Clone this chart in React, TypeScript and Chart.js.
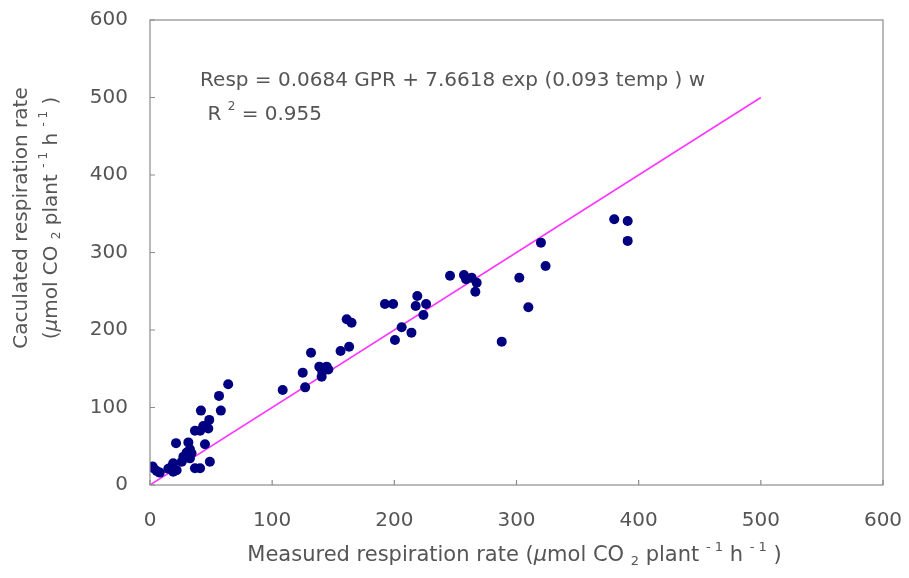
import React, { useEffect, useRef } from "react";
import { Chart, registerables } from "chart.js";

Chart.register(...registerables);

const measured = [
  2, 2.7, 5.5, 8, 15, 17.7, 19, 21.8, 19, 26, 27.3, 32.7, 30, 34, 32.7, 21.3, 31.4, 45, 36.8, 41, 49,
  36.8, 41, 43.6, 47.7, 48.5, 41.7, 58, 56.5, 64,
  108.6, 127, 125, 131.8, 138.6, 144.6, 141, 140.5, 146, 156, 163, 161, 165,
  192.3, 199, 218.8, 217.5, 226, 223.8, 206, 200.5, 214, 245.6, 257, 258.7, 263.3, 267.4, 266.3,
  287.9, 302.3, 309.7, 320, 323.8, 380, 391, 391,
];
const calculated = [
  24, 22, 18, 16, 21, 23.6, 28, 19, 17, 30, 36.5, 34.4, 42, 41, 46, 54, 55, 52.5, 21.5, 21.5, 30,
  70, 70, 76, 73, 84, 96, 96, 115, 130,
  122.6, 126, 145, 170.7, 152.7, 152.7, 146, 139.7, 149, 173, 178.5, 213.8, 209.4,
  233.5, 233.5, 243.9, 231, 233.5, 219.4, 203.5, 187, 196.6, 270, 271, 265.4, 267.5, 261, 249.4,
  185, 267.5, 229.3, 312.7, 282.6, 342.8, 340.6, 315,
];
const lineX = [0, 500];
const lineY = [0, 500];
const axisMin = 0;
const axisMax = 600;
const axisStep = 100;

const equationText = "Resp = 0.0684 GPR + 7.6618 exp (0.093 temp ) w";
const r2Text = [{ t: "R " }, { t: "2", s: "sup" }, { t: " = 0.955" }];
const xTitle = [
  { t: "Measured respiration rate (" },
  { t: "μ", it: true },
  { t: "mol CO " },
  { t: "2", s: "sub" },
  { t: " plant " },
  { t: "- 1", s: "sup" },
  { t: " h " },
  { t: "- 1", s: "sup" },
  { t: " )" },
];
const yTitle1 = [{ t: "Caculated respiration rate" }];
const yTitle2 = [
  { t: "(" },
  { t: "μ", it: true },
  { t: "mol CO " },
  { t: "2", s: "sub" },
  { t: " plant " },
  { t: "- 1", s: "sup" },
  { t: " h " },
  { t: "- 1", s: "sup" },
  { t: " )" },
];

const FONT = "'DejaVu Sans', sans-serif";
const TEXT = "#555555";

type Seg = { t: string; s?: string; it?: boolean };

function segFont(seg: Seg, size: number) {
  const sz = seg.s ? Math.round(size * 0.62) : size;
  return `${seg.it ? "italic " : ""}${sz}px ${FONT}`;
}
function richWidth(ctx: CanvasRenderingContext2D, segs: Seg[], size: number) {
  let w = 0;
  for (const sg of segs) {
    ctx.font = segFont(sg, size);
    w += ctx.measureText(sg.t).width;
  }
  return w;
}
function drawRich(ctx: CanvasRenderingContext2D, segs: Seg[], x: number, y: number, size: number, align: "left" | "center") {
  let cx = align === "center" ? x - richWidth(ctx, segs, size) / 2 : x;
  ctx.textAlign = "left";
  ctx.textBaseline = "middle";
  for (const sg of segs) {
    ctx.font = segFont(sg, size);
    let dy = 0;
    if (sg.s === "sup") dy = -size * 0.4;
    if (sg.s === "sub") dy = size * 0.25;
    ctx.fillText(sg.t, cx, y + dy);
    cx += ctx.measureText(sg.t).width;
  }
}

const decorPlugin = {
  id: "decor",
  afterDraw(chart: any) {
    const ctx = chart.ctx as CanvasRenderingContext2D;
    const { left, right, top, bottom } = chart.chartArea;
    const xs = chart.scales.x;
    const ys = chart.scales.y;
    ctx.save();
    ctx.strokeStyle = "#8c8c8c";
    ctx.lineWidth = 1.2;
    ctx.strokeRect(left, top, right - left, bottom - top);
    ctx.beginPath();
    for (let v = axisMin; v <= axisMax; v += axisStep) {
      const py = ys.getPixelForValue(v);
      ctx.moveTo(left, py);
      ctx.lineTo(left + 5, py);
      const px = xs.getPixelForValue(v);
      ctx.moveTo(px, bottom);
      ctx.lineTo(px, bottom - 5);
    }
    ctx.stroke();

    ctx.fillStyle = TEXT;
    drawRich(ctx, [{ t: equationText }], xs.getPixelForValue(41), ys.getPixelForValue(522), 20, "left");
    drawRich(ctx, r2Text, xs.getPixelForValue(47), ys.getPixelForValue(478), 20, "left");

    drawRich(ctx, xTitle, (left + right) / 2 - 2, 556, 21, "center");

    const cy = 218;
    ctx.save();
    ctx.translate(22, cy);
    ctx.rotate(-Math.PI / 2);
    drawRich(ctx, yTitle1, 0, 0, 20, "center");
    ctx.restore();
    ctx.save();
    ctx.translate(52, cy);
    ctx.rotate(-Math.PI / 2);
    drawRich(ctx, yTitle2, 0, 0, 20, "center");
    ctx.restore();
    ctx.restore();
  },
};

export default function App() {
  const ref = useRef<HTMLCanvasElement | null>(null);
  useEffect(() => {
    if (!ref.current) return;
    const points = measured.map((m, i) => ({ x: m, y: calculated[i] }));
    const line = lineX.map((v, i) => ({ x: v, y: lineY[i] }));
    const tickFont = { family: FONT, size: 20 };
    const chart = new Chart(ref.current, {
      type: "scatter",
      data: {
        datasets: [
          {
            type: "line",
            data: line,
            borderColor: "#ff33ff",
            borderWidth: 1.5,
            pointRadius: 0,
            fill: false,
            order: 2,
          } as any,
          {
            data: points,
            backgroundColor: "#000080",
            borderColor: "#000080",
            pointRadius: 5,
            pointBorderWidth: 0,
            order: 1,
          },
        ],
      },
      options: {
        animation: false,
        responsive: false,
        layout: { padding: { left: 0, top: 20, right: 26, bottom: 0 } },
        plugins: { legend: { display: false }, tooltip: { enabled: false } },
        scales: {
          x: {
            type: "linear",
            min: axisMin,
            max: axisMax,
            ticks: { stepSize: axisStep, color: TEXT, font: tickFont, padding: 24 },
            grid: { display: false, drawTicks: false },
            border: { display: false },
            afterFit: (s: any) => {
              s.height = 93;
              s.paddingLeft = 0;
              s.paddingRight = 0;
            },
          },
          y: {
            type: "linear",
            min: axisMin,
            max: axisMax,
            ticks: { stepSize: axisStep, color: TEXT, font: tickFont, padding: 22 },
            grid: { display: false, drawTicks: false },
            border: { display: false },
            afterFit: (s: any) => {
              s.width = 150;
              s.paddingTop = 0;
              s.paddingBottom = 0;
            },
          },
        },
      },
      plugins: [decorPlugin],
    });
    return () => chart.destroy();
  }, []);
  return (
    <div style={{ position: "fixed", left: 0, top: 0, width: 909, height: 578, background: "#fff" }}>
      <canvas ref={ref} width={909} height={578} />
    </div>
  );
}
